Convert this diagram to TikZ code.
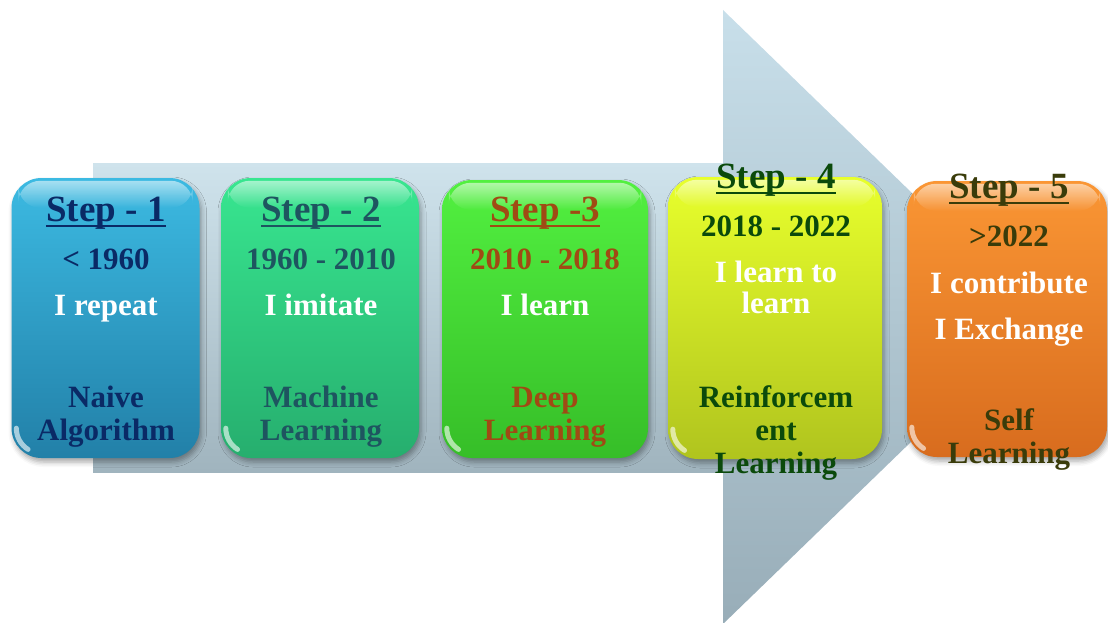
\documentclass[tikz,border=0pt]{standalone}
\usepackage{fontspec}
\setmainfont{Liberation Serif}
\usetikzlibrary{shadows.blur,fadings}
\newcommand\stepul[1]{\setbox0\hbox{#1}\rlap{\rule[-0.17em]{\wd0}{0.075em}}\box0}
\definecolor{shaftT}{HTML}{CFE3EC}
\definecolor{shaftB}{HTML}{A0B4BE}
\definecolor{headT}{HTML}{C8DFEA}
\definecolor{headB}{HTML}{98ADB8}
\definecolor{b1t}{HTML}{3CBAE2}
\definecolor{b1b}{HTML}{2280A8}
\definecolor{b2t}{HTML}{38E690}
\definecolor{b2b}{HTML}{26AE6E}
\definecolor{b3t}{HTML}{52F040}
\definecolor{b3b}{HTML}{36BE28}
\definecolor{b4t}{HTML}{E8FF2C}
\definecolor{b4b}{HTML}{B0C41E}
\definecolor{b5t}{HTML}{FA9634}
\definecolor{b5b}{HTML}{D86C1E}
\definecolor{c1}{HTML}{0A2A66}
\definecolor{c2}{HTML}{1E5560}
\definecolor{c3}{HTML}{A04A14}
\definecolor{c4}{HTML}{0B4A0B}
\definecolor{c5}{HTML}{3A3C0A}
\tikzset{
  box/.style={rectangle, rounded corners=30pt, draw=none, inner sep=0pt,
    blur shadow={shadow xshift=2pt, shadow yshift=-4pt, shadow blur radius=5pt, shadow opacity=35}},
  ttl/.style={anchor=base, inner sep=0pt, font=\fontsize{37}{40}\selectfont\bfseries},
  txt/.style={anchor=base, inner sep=0pt, font=\fontsize{31}{34}\selectfont\bfseries},
  gloss/.style={white, path fading=south, fill opacity=0.55, rounded corners=22pt},
  shine/.style={white, line width=5pt, line cap=round, opacity=0.6}
}
\begin{document}
\begin{tikzpicture}[x=1pt,y=-1pt]
\useasboundingbox (0,0) rectangle (1108,623);
\clip (0,0) rectangle (1108,623);
% big arrow
\shade[top color=shaftT, bottom color=shaftB] (93,163) rectangle (724,472);
\shade[top color=headT, bottom color=headB] (723,10) -- (1040,317) -- (723,624) -- cycle;
% boxes
\node[box, top color=b1t, bottom color=b1b, minimum width=188pt, minimum height=280pt] (box1) at (105.5,318) {};
\node[box, top color=b2t, bottom color=b2b, minimum width=198pt, minimum height=280pt] (box2) at (320,318) {};
\node[box, top color=b3t, bottom color=b3b, minimum width=206pt, minimum height=278pt] (box3) at (545,319) {};
\node[box, top color=b4t, bottom color=b4b, minimum width=214pt, minimum height=282pt] (box4) at (775,318) {};
\node[box, top color=b5t, bottom color=b5b, minimum width=200pt, minimum height=276pt] (box5) at (1007,319) {};
% gloss
\foreach \b in {box1,box2,box3,box4,box5}{
  \fill[gloss] ([xshift=7pt,yshift=-3pt]\b.north west) rectangle ([xshift=-7pt,yshift=-30pt]\b.north east);
  \draw[shine] ([xshift=5pt,yshift=30pt]\b.south west) arc[start angle=180, end angle=238, radius=25pt];
}
% texts box 1
\node[ttl, text=c1] (s1) at (106,221) {\stepul{Step - 1}};
\node[txt, text=c1] (y1) at (106,269) {< 1960};
\node[txt, text=white] (d1) at (106,315) {I repeat};
\node[txt, text=c1] (n1a) at (106,407) {Naive};
\node[txt, text=c1] (n1b) at (106,440) {Algorithm};
% box 2
\node[ttl, text=c2] (s2) at (321,221) {\stepul{Step - 2}};
\node[txt, text=c2] (y2) at (321,269) {1960 - 2010};
\node[txt, text=white] (d2) at (321,315) {I imitate};
\node[txt, text=c2] (n2a) at (321,407) {Machine};
\node[txt, text=c2] (n2b) at (321,440) {Learning};
% box 3
\node[ttl, text=c3] (s3) at (545,221) {\stepul{Step -3}};
\node[txt, text=c3] (y3) at (545,269) {2010 - 2018};
\node[txt, text=white] (d3) at (545,315) {I learn};
\node[txt, text=c3] (n3a) at (545,407) {Deep};
\node[txt, text=c3] (n3b) at (545,440) {Learning};
% box 4
\node[ttl, text=c4] (s4) at (776,188) {\stepul{Step - 4}};
\node[txt, text=c4] (y4) at (776,236) {2018 - 2022};
\node[txt, text=white] (d4a) at (776,282) {I learn to};
\node[txt, text=white] (d4b) at (776,313) {learn};
\node[txt, text=c4] (n4a) at (776,407) {Reinforcem};
\node[txt, text=c4] (n4b) at (776,440) {ent};
\node[txt, text=c4] (n4c) at (776,473) {Learning};
% box 5
\node[ttl, text=c5] (s5) at (1009,198) {\stepul{Step - 5}};
\node[txt, text=c5] (y5) at (1009,246) {>2022};
\node[txt, text=white] (d5a) at (1009,293) {I contribute};
\node[txt, text=white] (d5b) at (1009,339) {I Exchange};
\node[txt, text=c5] (n5a) at (1009,430) {Self};
\node[txt, text=c5] (n5b) at (1009,463) {Learning};
\end{tikzpicture}
\end{document}
